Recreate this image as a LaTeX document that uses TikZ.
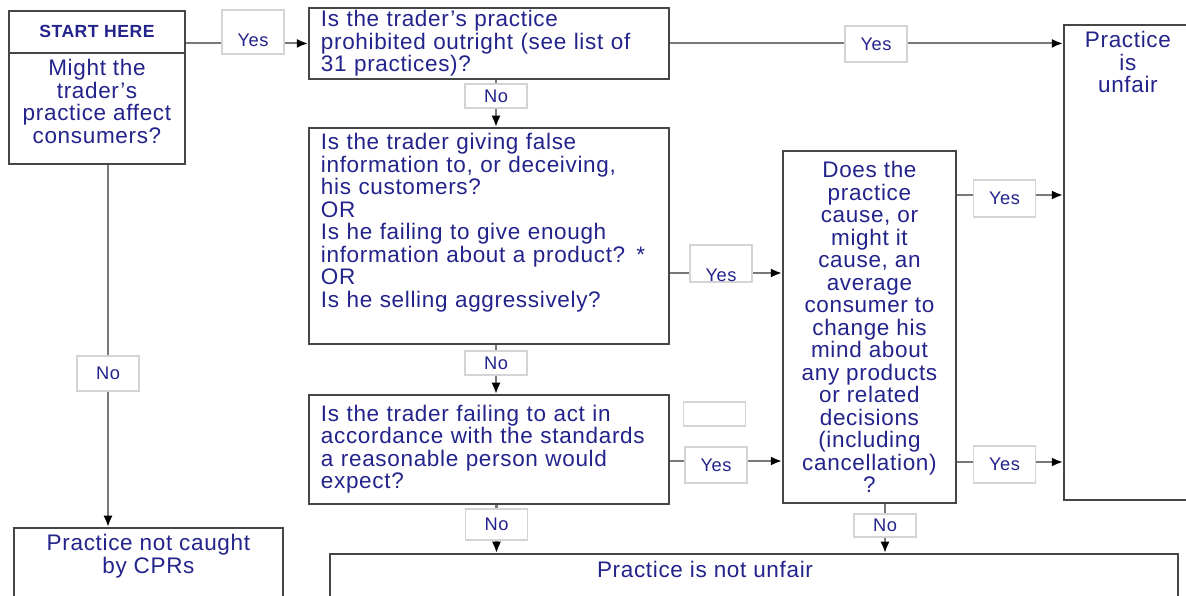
\documentclass[tikz,border=0pt]{standalone}
\usepackage{fontspec}
\setmainfont{Liberation Sans}[LetterSpace=3]
\usepackage{tikz}
\usetikzlibrary{positioning,arrows.meta,backgrounds}

\definecolor{navy}{RGB}{35,35,140}
\definecolor{boxgray}{RGB}{70,70,70}
\definecolor{linegray}{RGB}{120,120,120}
\definecolor{lblgray}{RGB}{212,212,212}

\begin{document}
\begin{tikzpicture}[
    x=0.025cm, y=-0.025cm,
    box/.style  = {draw=boxgray,line width=1.3pt,fill=white,text=navy,inner sep=0pt,font=\fontsize{16}{16}\selectfont},
    qbox/.style = {box,anchor=north west,align=left,text width=8.4cm,inner xsep=0.3cm,minimum height=#1},
    txt/.style  = {text=navy,inner sep=0pt,align=center,font=\fontsize{16}{16}\selectfont},
    lbl/.style  = {draw=lblgray,line width=0.8pt,fill=white,text=navy,inner sep=0pt,minimum width=1.55cm,minimum height=#1,font=\fontsize{13}{13}\selectfont},
    conn/.style = {draw=linegray,line width=1.5pt,-{Latex[length=8pt,width=6.5pt,color=black]}}
  ]
  \useasboundingbox (0,0) rectangle (1186,596);

  % boxes
  \node[box,anchor=north west,minimum width=4.4cm,minimum height=1.05cm,font=\fontsize{12.5}{13}\selectfont\bfseries] (head) at (8,10) {START HERE};
  \node[box,anchor=north west,minimum width=4.4cm,minimum height=2.775cm] (start) at (8,52) {};
  \node[txt,below=5pt of start.north] (starttxt) {Might the\\trader's\\practice affect\\consumers?};

  \node[qbox=1.775cm] (q1) at (308,7) {Is the trader's practice\\prohibited outright (see list of\\31 practices)?};
  \node[qbox=5.4cm,text depth=134pt] (q2) at (308,127) {Is the trader giving false\\information to, or deceiving,\\his customers?\\OR\\Is he failing to give enough\\information about a product? *\\OR\\Is he selling aggressively?};
  \node[qbox=2.725cm] (q3) at (308,394) {Is the trader failing to act in\\accordance with the standards\\a reasonable person would\\expect?};
  \node[box,anchor=north west,align=center,minimum width=4.325cm,minimum height=8.8cm] (q4) at (782,150) {Does the\\practice\\cause, or\\might it\\cause, an\\average\\consumer to\\change his\\mind about\\any products\\or related\\decisions\\(including\\cancellation)\\?};

  \node[box,anchor=north west,minimum width=3.2cm,minimum height=11.875cm] (unfair) at (1063,24) {};
  \node[txt,below=5pt of unfair.north] (unfairtxt) {Practice\\is\\unfair};
  \node[box,anchor=north west,minimum width=21.2cm,minimum height=2cm] (notunfair) at (329,553) {};
  \node[txt] (notunfairtxt) at (705,569) {Practice is not unfair};
  \node[box,anchor=north west,minimum width=6.725cm,minimum height=2cm] (notcaught) at (13,527) {};
  \node[txt,below=5pt of notcaught.north] (notcaughttxt) {Practice not caught\\by CPRs};

  % yes / no labels
  \node[lbl=1.1cm,text height=21pt] (y1) at (253,32) {Yes};
  \node[lbl=0.9cm] (y2) at (876,44) {Yes};
  \node[lbl=0.6cm] (n1) at (496,96) {No};
  \node[lbl=0.925cm,text height=26pt] (y3) at (721,263.5) {Yes};
  \node[lbl=0.6cm] (n2) at (496,363) {No};
  \node[lbl=0.6cm] (blank) at (714.5,414) {};
  \node[lbl=0.9cm] (y4) at (716,465) {Yes};
  \node[lbl=0.925cm] (y5) at (1004.5,198.5) {Yes};
  \node[lbl=0.925cm] (y6) at (1004.5,464.5) {Yes};
  \node[lbl=0.775cm] (n3) at (496.5,524.5) {No};
  \node[lbl=0.575cm] (n4) at (885,525.5) {No};
  \node[lbl=0.875cm] (n0) at (108,373.5) {No};

  \begin{scope}[on background layer]
    \draw[conn] (head.east |- q1.west) -- (q1.west);
    \draw[conn] (q1.east) -- (unfair.west |- q1.east);
    \draw[conn] (q1.south -| n1) -- (q2.north -| n1);
    \draw[conn] (q2.east |- 0,273) -- (q4.west |- 0,273);
    \draw[conn] (q2.south -| n2) -- (q3.north -| n2);
    \draw[conn] (q3.east |- 0,461) -- (q4.west |- 0,461);
    \draw[conn] (q4.east |- 0,195) -- (unfair.west |- 0,195);
    \draw[conn] (q4.east |- 0,462) -- (unfair.west |- 0,462);
    \draw[conn] (q3.south -| n3) -- (notunfair.north -| n3);
    \draw[conn] (q4.south -| n4) -- (notunfair.north -| n4);
    \draw[conn] (start.south -| n0) -- (notcaught.north -| n0);
  \end{scope}
\end{tikzpicture}
\end{document}
